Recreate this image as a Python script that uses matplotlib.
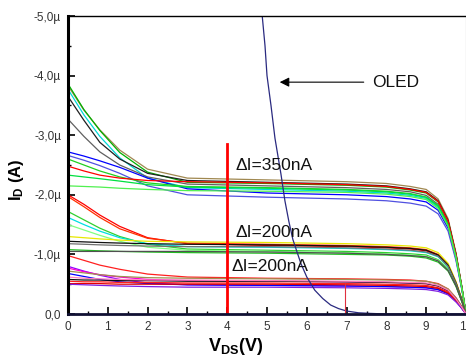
import matplotlib
matplotlib.use("Agg")
import matplotlib.pyplot as plt

plt.rcParams['font.family'] = ['Liberation Sans', 'DejaVu Sans']
plt.rcParams['mathtext.fontset'] = 'custom'
plt.rcParams['mathtext.rm'] = 'Liberation Sans'
plt.rcParams['mathtext.bf'] = 'Liberation Sans:bold'

# ---- data (I in µA, V in volts) ----
V = [0, 0.4, 0.8, 1.3, 2.0, 3.0, 5.0, 7.0, 8.0, 8.6, 9.0, 9.3, 9.55, 9.75, 9.9, 10.0]

top_colors = ['#a08850', '#00b000', '#00d8d8', '#202020', '#606060', '#0000ff',
              '#5050e0', '#20d020', '#ff0000', '#00e040', '#50f050']
top_I = [
    [-3.83, -3.42, -3.09, -2.75, -2.43, -2.28, -2.25, -2.22, -2.19, -2.14, -2.09, -1.93, -1.60, -1.02, -0.44, 0],
    [-3.86, -3.43, -3.08, -2.71, -2.38, -2.21, -2.19, -2.16, -2.13, -2.08, -2.03, -1.88, -1.56, -0.99, -0.43, 0],
    [-3.77, -3.34, -2.98, -2.62, -2.28, -2.12, -2.09, -2.06, -2.03, -1.99, -1.94, -1.79, -1.48, -0.95, -0.41, 0],
    [-3.65, -3.25, -2.88, -2.60, -2.36, -2.24, -2.21, -2.18, -2.15, -2.10, -2.05, -1.90, -1.57, -1.00, -0.44, 0],
    [-3.27, -2.98, -2.72, -2.50, -2.30, -2.18, -2.15, -2.12, -2.09, -2.05, -1.99, -1.84, -1.53, -0.98, -0.42, 0],
    [-2.72, -2.65, -2.57, -2.46, -2.28, -2.10, -2.03, -2.00, -1.97, -1.93, -1.88, -1.74, -1.44, -0.92, -0.40, 0],
    [-2.66, -2.58, -2.49, -2.36, -2.15, -2.00, -1.96, -1.93, -1.90, -1.86, -1.81, -1.68, -1.39, -0.89, -0.39, 0],
    [-2.60, -2.50, -2.40, -2.30, -2.20, -2.14, -2.12, -2.09, -2.06, -2.02, -1.96, -1.82, -1.50, -0.96, -0.42, 0],
    [-2.48, -2.40, -2.33, -2.28, -2.24, -2.22, -2.20, -2.17, -2.14, -2.09, -2.04, -1.89, -1.56, -1.00, -0.43, 0],
    [-2.33, -2.30, -2.27, -2.23, -2.17, -2.13, -2.11, -2.08, -2.05, -2.01, -1.96, -1.81, -1.50, -0.96, -0.42, 0],
    [-2.15, -2.14, -2.13, -2.11, -2.09, -2.07, -2.06, -2.04, -2.01, -1.97, -1.92, -1.77, -1.47, -0.94, -0.41, 0],
]

mid_colors = ['#ff0000', '#ff3000', '#30d030', '#00e0e0', '#80ff80', '#e8e800',
              '#101010', '#707070', '#20c020', '#505050']
mid_I = [
    [-2.00, -1.84, -1.66, -1.47, -1.28, -1.18, -1.15, -1.13, -1.11, -1.09, -1.06, -0.98, -0.81, -0.52, -0.23, 0],
    [-1.97, -1.80, -1.62, -1.43, -1.27, -1.19, -1.17, -1.15, -1.13, -1.11, -1.08, -1.00, -0.83, -0.53, -0.23, 0],
    [-1.72, -1.58, -1.44, -1.30, -1.17, -1.09, -1.07, -1.05, -1.03, -1.01, -0.99, -0.91, -0.76, -0.48, -0.21, 0],
    [-1.62, -1.50, -1.39, -1.28, -1.18, -1.13, -1.12, -1.10, -1.08, -1.06, -1.03, -0.96, -0.79, -0.51, -0.22, 0],
    [-1.50, -1.41, -1.32, -1.22, -1.12, -1.07, -1.05, -1.03, -1.01, -0.99, -0.97, -0.90, -0.74, -0.47, -0.21, 0],
    [-1.30, -1.28, -1.26, -1.24, -1.22, -1.21, -1.20, -1.18, -1.16, -1.14, -1.11, -1.03, -0.85, -0.54, -0.24, 0],
    [-1.22, -1.21, -1.20, -1.19, -1.18, -1.17, -1.16, -1.14, -1.12, -1.10, -1.07, -0.99, -0.82, -0.52, -0.23, 0],
    [-1.18, -1.17, -1.16, -1.15, -1.14, -1.13, -1.13, -1.11, -1.09, -1.07, -1.04, -0.97, -0.80, -0.51, -0.22, 0],
    [-1.08, -1.07, -1.06, -1.05, -1.04, -1.03, -1.02, -1.00, -0.99, -0.97, -0.94, -0.87, -0.72, -0.46, -0.20, 0],
    [-1.05, -1.05, -1.05, -1.05, -1.05, -1.05, -1.04, -1.02, -1.00, -0.98, -0.96, -0.89, -0.73, -0.47, -0.20, 0],
]

bot_colors = ['#ff2020', '#9000ff', '#ff00d0', '#0000ff', '#a09050', '#101010',
              '#ff2020', '#e00000', '#8020e0', '#ff80c0']
bot_I = [
    [-0.98, -0.90, -0.82, -0.75, -0.67, -0.62, -0.60, -0.59, -0.58, -0.57, -0.55, -0.51, -0.42, -0.27, -0.12, 0],
    [-0.80, -0.72, -0.65, -0.58, -0.52, -0.49, -0.48, -0.47, -0.46, -0.45, -0.44, -0.41, -0.34, -0.22, -0.09, 0],
    [-0.77, -0.71, -0.66, -0.62, -0.58, -0.56, -0.55, -0.54, -0.53, -0.52, -0.51, -0.47, -0.39, -0.25, -0.11, 0],
    [-0.68, -0.63, -0.58, -0.54, -0.51, -0.49, -0.48, -0.47, -0.46, -0.45, -0.44, -0.41, -0.34, -0.22, -0.09, 0],
    [-0.72, -0.69, -0.66, -0.63, -0.61, -0.60, -0.59, -0.58, -0.57, -0.56, -0.55, -0.50, -0.42, -0.27, -0.12, 0],
    [-0.58, -0.57, -0.57, -0.56, -0.56, -0.55, -0.55, -0.54, -0.53, -0.52, -0.51, -0.47, -0.39, -0.25, -0.11, 0],
    [-0.55, -0.54, -0.54, -0.53, -0.53, -0.52, -0.52, -0.51, -0.50, -0.49, -0.48, -0.44, -0.37, -0.23, -0.10, 0],
    [-0.51, -0.51, -0.51, -0.50, -0.50, -0.50, -0.50, -0.49, -0.48, -0.47, -0.46, -0.43, -0.35, -0.23, -0.10, 0],
    [-0.50, -0.49, -0.48, -0.47, -0.46, -0.45, -0.45, -0.44, -0.43, -0.42, -0.41, -0.38, -0.32, -0.20, -0.09, 0],
    [-0.62, -0.60, -0.59, -0.58, -0.57, -0.57, -0.56, -0.55, -0.54, -0.53, -0.52, -0.48, -0.40, -0.25, -0.11, 0],
]

oled_V = [4.88, 4.95, 5.0, 5.1, 5.2, 5.35, 5.45, 5.55, 5.65, 5.75, 5.85, 6.0, 6.2,
          6.4, 6.6, 6.8, 7.0, 7.3, 7.6, 8.0, 10.0]
oled_I = [-5.0, -4.5, -4.0, -3.5, -2.95, -2.35, -1.9, -1.55, -1.25, -1.05, -0.85, -0.62,
          -0.4, -0.26, -0.15, -0.09, -0.05, -0.02, -0.01, 0, 0]

marker_V = 4.0
marker_top = -2.85
thin_V = 6.95
thin_top = -0.52

y_ticks = [0, -1, -2, -3, -4, -5]
y_labels = ['0,0', '-1,0µ', '-2,0µ', '-3,0µ', '-4,0µ', '-5,0µ']
x_ticks = [0, 1, 2, 3, 4, 5, 6, 7, 8, 9, 10]
x_labels = ['0', '1', '2', '3', '4', '5', '6', '7', '8', '9', '10']

annotations = [('ΔI=350nA', 4.2, -2.5), ('ΔI=200nA', 4.2, -1.36), ('ΔI=200nA', 4.12, -0.79)]

# ---- figure ----
fig = plt.figure(figsize=(4.66, 3.61), dpi=100)
ax = fig.add_axes([68/466, 1-314/361, 1-68/466, (314-16)/361])

for group_I, group_c in ((top_I, top_colors), (mid_I, mid_colors), (bot_I, bot_colors)):
    for I, c in zip(group_I, group_c):
        ax.plot(V, I, color=c, lw=0.9, solid_joinstyle='round')

ax.plot(oled_V, oled_I, color='#2a2a80', lw=0.9)

ax.plot([marker_V, marker_V], [0, marker_top], color='#ff0000', lw=2.0)
ax.plot([thin_V, thin_V], [0, thin_top], color='#e03040', lw=0.8)

for txt, x, y in annotations:
    ax.text(x, y, txt, fontsize=12.5, color='#111111', va='center', ha='left')

ax.annotate('', xy=(5.25, -3.89), xytext=(7.5, -3.89),
            arrowprops=dict(arrowstyle='-|>', color='black', lw=0.8,
                            mutation_scale=14))
ax.text(7.65, -3.89, 'OLED', fontsize=12.5, color='#111111', va='center', ha='left')

ax.set_xlim(0, 10)
ax.set_ylim(0, -5)
ax.set_xticks(x_ticks)
ax.set_xticklabels(x_labels, fontsize=8.5, color='#333333')
ax.set_yticks(y_ticks)
ax.set_yticklabels(y_labels, fontsize=8.5, color='#333333')
ax.set_xticks([i + 0.5 for i in range(10)], minor=True)
ax.set_yticks([-0.5, -1.5, -2.5, -3.5, -4.5], minor=True)
ax.tick_params(which='major', direction='in', length=5, width=1.2, pad=5)
ax.tick_params(which='minor', direction='in', length=2.5, width=1.0)

ax.spines['left'].set_linewidth(2.2)
ax.spines['bottom'].set_linewidth(2.0)
ax.spines['bottom'].set_color('#111133')
ax.spines['top'].set_linewidth(1.0)
ax.spines['right'].set_linewidth(0.8)
ax.spines['right'].set_color('#888888')

ax.set_xlabel(r'$\mathbf{V_{DS}(V)}$', fontsize=13)
ax.xaxis.set_label_coords(0.42, -0.075)
ax.set_ylabel(r'$\mathbf{I_{D}}$ (A)', fontsize=12, fontweight='bold')
ax.yaxis.set_label_coords(-0.105, 0.45)

fig.savefig('out.png', dpi=100)
